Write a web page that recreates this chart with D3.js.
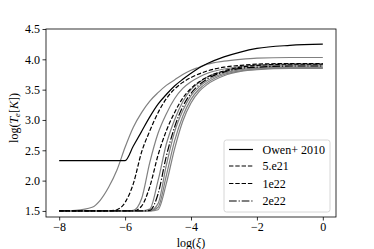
<!DOCTYPE html>
<html><head><meta charset="utf-8">
<script src="https://cdn.jsdelivr.net/npm/d3@7"></script>
<style>body{margin:0;background:#fff}svg{display:block}svg text{font-family:"Liberation Serif","DejaVu Serif",serif}</style>
</head><body>
<script>
const xGrid = [-8,-7.5,-7,-6.75,-6.5,-6.25,-6,-5.75,-5.5,-5.25,-5,-4.75,-4.5,-4.25,-4,-3.75,-3.5,-3,-2.5,-2,-1,0];
const grayA  = [1.50,1.51,1.56,1.68,1.89,2.17,2.55,2.88,3.12,3.31,3.45,3.57,3.66,3.75,3.82,3.87,3.92,3.97,4.00,4.02,4.03,4.03];
const owen   = [2.33,2.33,2.33,2.33,2.33,2.33,2.33,2.57,2.81,3.05,3.26,3.42,3.56,3.67,3.77,3.86,3.93,4.04,4.12,4.18,4.23,4.25];
const d5e21  = [1.50,1.50,1.50,1.50,1.50,1.52,1.64,1.95,2.47,2.82,3.12,3.35,3.51,3.62,3.70,3.76,3.81,3.87,3.90,3.92,3.93,3.93];
const d1e22  = [1.50,1.50,1.50,1.50,1.50,1.50,1.50,1.50,1.58,1.90,2.42,2.82,3.12,3.36,3.52,3.63,3.71,3.81,3.87,3.90,3.92,3.92];
const d2e22  = [1.50,1.50,1.50,1.50,1.50,1.50,1.50,1.50,1.50,1.51,1.78,2.40,2.88,3.22,3.44,3.58,3.68,3.79,3.85,3.87,3.89,3.89];
const grayB  = [1.50,1.50,1.50,1.50,1.50,1.50,1.50,1.51,1.70,2.30,2.78,3.10,3.35,3.52,3.63,3.71,3.77,3.84,3.88,3.90,3.91,3.91];
const grayC  = [1.50,1.50,1.50,1.50,1.50,1.50,1.50,1.50,1.50,1.53,2.00,2.60,3.00,3.30,3.50,3.62,3.71,3.80,3.85,3.87,3.89,3.89];
const grayD  = [1.50,1.50,1.50,1.50,1.50,1.50,1.50,1.50,1.50,1.50,1.62,2.25,2.80,3.15,3.40,3.55,3.65,3.77,3.83,3.85,3.87,3.87];
const grayE  = [1.50,1.50,1.50,1.50,1.50,1.50,1.50,1.50,1.50,1.50,1.56,2.08,2.65,3.06,3.34,3.51,3.62,3.75,3.81,3.84,3.86,3.86];
const grayF  = [1.50,1.50,1.50,1.50,1.50,1.50,1.50,1.50,1.50,1.50,1.52,1.95,2.52,2.98,3.28,3.47,3.59,3.73,3.80,3.83,3.85,3.85];
const xTicks = [-8,-6,-4,-2,0];
const yTicks = [1.5,2.0,2.5,3.0,3.5,4.0,4.5];
const legendLabels = ["Owen+ 2010","5.e21","1e22","2e22"];

const W=374,H=249;
const m={l:46,r:38,t:29,b:32};
const svg=d3.select("body").append("svg").attr("width",W).attr("height",H);
const x=d3.scaleLinear().domain([-8.4,0.4]).range([m.l,W-m.r]);
const y=d3.scaleLinear().domain([1.4,4.5]).range([H-m.b,m.t]);
const fs=12;

const line=d3.line().x((d,i)=>x(xGrid[i])).y(d=>y(d)).curve(d3.curveMonotoneX);
const series=[
 {v:grayA,c:"#808080",dash:null},
 {v:grayB,c:"#808080",dash:null},
 {v:grayC,c:"#808080",dash:null},
 {v:grayD,c:"#808080",dash:null},
 {v:grayE,c:"#808080",dash:null},
 {v:grayF,c:"#808080",dash:null},
 {v:owen,c:"#000",dash:null},
 {v:d5e21,c:"#000",dash:"4.4,1.9"},
 {v:d1e22,c:"#000",dash:"4.4,1.9"},
 {v:d2e22,c:"#000",dash:"7.7,1.9,1.2,1.9"}
];
const g=svg.append("g");
series.forEach(s=>{
  g.append("path").attr("d",line(s.v)).attr("fill","none").attr("stroke",s.c)
   .attr("stroke-width",1.2).attr("stroke-dasharray",s.dash);
});

const xa=svg.append("g").attr("transform",`translate(0,${H-m.b})`)
 .call(d3.axisBottom(x).tickValues(xTicks).tickSize(3.5).tickPadding(2).tickFormat(d=>d3.format("d")(d).replace("-","\u2212")));
const ya=svg.append("g").attr("transform",`translate(${m.l},0)`)
 .call(d3.axisLeft(y).tickValues(yTicks).tickSize(3.5).tickPadding(2.5).tickFormat(d3.format(".1f")));
[xa,ya].forEach(a=>{a.attr("font-family",null).attr("font-size",null);
 a.select(".domain").remove();a.selectAll("line").attr("stroke","#000").attr("stroke-width",0.8);
 a.selectAll("text").attr("font-size",fs).attr("fill","#000");});
svg.append("rect").attr("x",m.l).attr("y",m.t).attr("width",W-m.r-m.l).attr("height",H-m.b-m.t)
 .attr("fill","none").attr("stroke","#000").attr("stroke-width",0.8);

svg.append("text").attr("x",(m.l+W-m.r)/2).attr("y",247).attr("text-anchor","middle")
 .attr("font-size",fs).html("log(<tspan font-style='italic'>ξ</tspan>)");
svg.append("text").attr("transform","translate(18,118) rotate(-90)").attr("text-anchor","middle")
 .attr("font-size",fs)
 .html("log(<tspan font-style='italic'>T</tspan><tspan font-style='italic' font-size='8.5' dy='2'>e</tspan><tspan dy='-2'>[</tspan><tspan font-style='italic'>K</tspan>])");

const lg=svg.append("g");
lg.append("rect").attr("x",224).attr("y",140).attr("width",106).attr("height",72).attr("rx",2.5)
 .attr("fill","#fff").attr("fill-opacity",0.8).attr("stroke","#ccc").attr("stroke-width",0.8);
const ldash=[null,"4.4,1.9","4.4,1.9","7.7,1.9,1.2,1.9"];
const ly=[149.5,166,183.5,201];
legendLabels.forEach((t,i)=>{
  lg.append("line").attr("x1",229).attr("x2",253).attr("y1",ly[i]).attr("y2",ly[i]).attr("stroke","#000")
   .attr("stroke-width",1.2).attr("stroke-dasharray",ldash[i]);
  lg.append("text").attr("x",262.5).attr("y",ly[i]+4).attr("font-size",fs).text(t);
});
</script>
</body></html>
